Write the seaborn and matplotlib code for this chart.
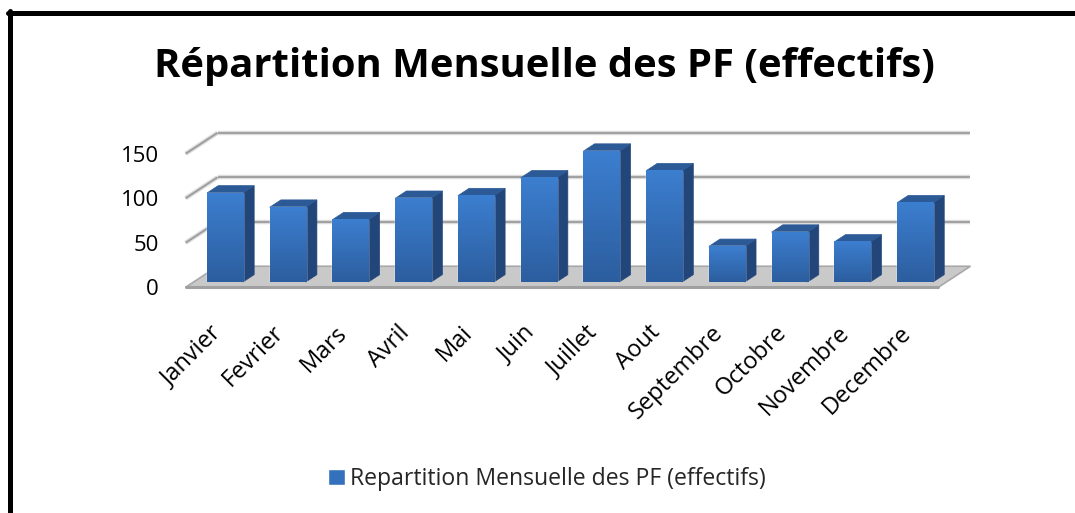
import matplotlib
matplotlib.use("Agg")
import matplotlib.pyplot as plt
import matplotlib.transforms as mtransforms
from matplotlib.colors import LinearSegmentedColormap
from matplotlib.lines import Line2D
from matplotlib.patches import Polygon
import numpy as np
import pandas as pd
import seaborn as sns

mois = ["Janvier", "Fevrier", "Mars", "Avril", "Mai", "Juin", "Juillet", "Aout",
        "Septembre", "Octobre", "Novembre", "Decembre"]
effectifs = [100, 84, 70, 94, 97, 117, 147, 125, 40, 56, 45, 89]
graduations = [0, 50, 100, 150]
titre = "Répartition Mensuelle des PF (effectifs)"
legende = "Repartition Mensuelle des PF (effectifs)"

df = pd.DataFrame({"mois": mois, "effectifs": effectifs})

sns.set_theme(style="white")
plt.rcParams["font.family"] = ["Open Sans", "DejaVu Sans"]

W, H = 1075, 513
fig = plt.figure(figsize=(W / 100, H / 100), dpi=100)
# the axes is the plane of the bars' front faces
ax = fig.add_axes([193.6 / W, 231 / H, (946.4 - 193.6) / W, 133.5 / H])
ax.set_facecolor("none")
for s in ax.spines.values():
    s.set_visible(False)

bleu = "#3570BD"
sns.barplot(data=df, x="mois", y="effectifs", color=bleu, saturation=1,
            width=0.574, ax=ax, label=legende, zorder=6)
if ax.get_legend() is not None:
    ax.get_legend().remove()
ax.set_xlim(-0.5, 11.5)
ax.set_ylim(0, 150)
ax.set_xlabel("")
ax.set_ylabel("")

# fake 3d: depth vector in pixels, bar plane sits at a quarter of the depth
D = np.array([32.0, 21.0])
f = 0.25
tb = 0.35


def pt(x, y, t):
    disp = ax.transData.transform((x, y)) + (t - f) * D
    return ax.transData.inverted().transform(disp)


x0, x1 = ax.get_xlim()

# back and side walls
for g in graduations[1:]:
    for a, b in [((x0, g, 1), (x1, g, 1)), ((x0, g, 0), (x0, g, 1))]:
        pa, pb = pt(*a), pt(*b)
        ax.plot([pa[0], pb[0]], [pa[1], pb[1]], color="#DCDCDC", lw=3.2,
                clip_on=False, zorder=1, solid_capstyle="butt")
        ax.plot([pa[0], pb[0]], [pa[1], pb[1]], color="#9C9C9C", lw=1.3,
                clip_on=False, zorder=2, solid_capstyle="butt")

# floor
sol = [pt(x0, 0, 0), pt(x1, 0, 0), pt(x1, 0, 1), pt(x0, 0, 1)]
ax.add_patch(Polygon(sol, closed=True, facecolor="#C9C9C9", edgecolor="#A8A8A8",
                     lw=1.2, clip_on=False, zorder=3))
fa, fb = pt(x0, 0, 0), pt(x1, 0, 0)
ax.plot([fa[0], fb[0]], [fa[1], fb[1]], color="#A0A0A0", lw=2.2,
        clip_on=False, zorder=3)

# bar sides, tops and gradient front faces
degrade = LinearSegmentedColormap.from_list("degrade", ["#2C5E9F", "#3C7ECF"])
for p in ax.patches[:len(mois)]:
    bx, bw, bh = p.get_x(), p.get_width(), p.get_height()
    cote = [pt(bx + bw, 0, f), pt(bx + bw, bh, f), pt(bx + bw, bh, f + tb),
            pt(bx + bw, 0, f + tb)]
    dessus = [pt(bx, bh, f), pt(bx + bw, bh, f), pt(bx + bw, bh, f + tb),
              pt(bx, bh, f + tb)]
    ax.add_patch(Polygon(cote, closed=True, facecolor="#23467A",
                         edgecolor="#23467A", lw=0.5, clip_on=False, zorder=5))
    ax.add_patch(Polygon(dessus, closed=True, facecolor="#2C5A96",
                         edgecolor="#2C5A96", lw=0.5, clip_on=False, zorder=5))
    grad = np.linspace(0, 1, 64).reshape(-1, 1)
    ax.imshow(grad, cmap=degrade, origin="lower", aspect="auto",
              extent=(bx, bx + bw, 0, bh), zorder=7, clip_on=False)

ax.set_xlim(x0, x1)
ax.set_ylim(0, 150)

# axis labels
ax.set_yticks(graduations)
ax.set_yticklabels([str(g) for g in graduations])
ax.tick_params(axis="y", length=0, pad=25, labelsize=16, labelcolor="black")
decal_y = mtransforms.ScaledTranslation(0, -5.25 / 100, fig.dpi_scale_trans)
for lab in ax.get_yticklabels():
    lab.set_transform(lab.get_transform() + decal_y)

ax.set_xticks(range(len(mois)))
ax.set_xticklabels(mois, rotation=45, ha="right", va="center",
                   rotation_mode="anchor")
ax.tick_params(axis="x", length=0, pad=34, labelsize=17, labelcolor="black")
decal_x = mtransforms.ScaledTranslation(-7 / 100, 0, fig.dpi_scale_trans)
for lab in ax.get_xticklabels():
    lab.set_transform(lab.get_transform() + decal_x)

fig.text(544 / W, 1 - 66 / H, titre, ha="center", va="center",
         fontsize=28.8, fontweight="bold", color="black")

h, l = ax.get_legend_handles_labels()
fig.legend(h[:1], l[:1], loc="center", bbox_to_anchor=(547 / W, 1 - 479 / H),
           frameon=False, fontsize=16.6, handlelength=0.75, handleheight=0.75,
           handletextpad=0.2)

# frame of the original chart (only top and left edges visible)
fig.add_artist(Line2D([7.5 / W, 1], [1 - 12.5 / H, 1 - 12.5 / H], color="black",
                      lw=3.6, transform=fig.transFigure))
fig.add_artist(Line2D([10 / W, 10 / W], [0, 1 - 10.5 / H], color="black",
                      lw=3.6, transform=fig.transFigure))

fig.savefig("out.png", dpi=100)
